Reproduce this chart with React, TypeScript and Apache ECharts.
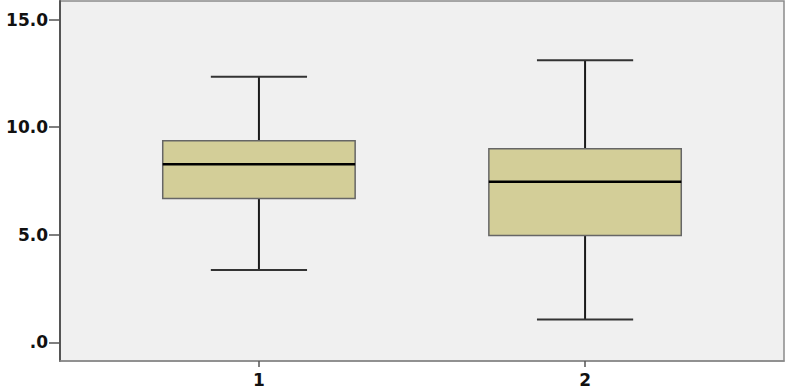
import React, { useEffect, useRef } from "react";
import * as echarts from "echarts";

const categories = [1, 2];
const lowWhisker = [3.36, 1.06];
const q1Values = [6.69, 4.96];
const medians = [8.28, 7.47];
const q3Values = [9.37, 9.0];
const highWhisker = [12.35, 13.12];
const yTicks = [0, 5, 10, 15];

export default function App() {
  const ref = useRef<HTMLDivElement>(null);
  useEffect(() => {
    if (!ref.current) return;
    const chart = echarts.init(ref.current, null, { renderer: "svg" });
    const data = categories.map((c, i) => [
      c,
      lowWhisker[i],
      q1Values[i],
      medians[i],
      q3Values[i],
      highWhisker[i],
    ]);
    const boxW = 0.59;
    const capW = 0.295;
    const labelFont = {
      fontFamily: "DejaVu Sans",
      fontWeight: "bold" as const,
      fontSize: 17,
      color: "#111",
    };
    chart.setOption({
      animation: false,
      grid: {
        left: 60,
        top: 1,
        width: 724,
        height: 364,
        show: true,
        backgroundColor: "#F0F0F0",
        borderColor: "#8a8a8a",
        borderWidth: 1.5,
      },
      xAxis: {
        type: "value",
        min: 0.39,
        max: 2.61,
        splitLine: { show: false },
        axisLine: { show: true, onZero: false, lineStyle: { color: "#8a8a8a", width: 1.5 } },
        axisTick: { show: true, customValues: categories, length: 6, lineStyle: { color: "#555", width: 1.5 } },
        axisLabel: {
          customValues: categories,
          margin: 10,
          formatter: (v: number) => String(v),
          ...labelFont,
        },
      },
      yAxis: {
        type: "value",
        min: -0.87,
        max: 15.87,
        splitLine: { show: false },
        axisLine: { show: true, onZero: false, lineStyle: { color: "#555", width: 2 } },
        axisTick: { show: true, customValues: yTicks, length: 11, lineStyle: { color: "#555", width: 1.5 } },
        axisLabel: {
          customValues: yTicks,
          margin: 12,
          formatter: (v: number) => (v === 0 ? ".0" : v.toFixed(1)),
          ...labelFont,
        },
      },
      series: [
        {
          type: "custom",
          data,
          renderItem: (params: any, api: any) => {
            const x = api.value(0);
            const lo = api.coord([x, api.value(1)]);
            const q1 = api.coord([x, api.value(2)]);
            const med = api.coord([x, api.value(3)]);
            const q3 = api.coord([x, api.value(4)]);
            const hi = api.coord([x, api.value(5)]);
            const bw = api.size([boxW, 0])[0];
            const cw = api.size([capW, 0])[0];
            const cx = lo[0];
            const whisk = { stroke: "#1a1a1a", lineWidth: 2 };
            return {
              type: "group",
              children: [
                { type: "line", shape: { x1: cx, y1: hi[1], x2: cx, y2: q3[1] }, style: whisk },
                { type: "line", shape: { x1: cx, y1: q1[1], x2: cx, y2: lo[1] }, style: whisk },
                { type: "line", shape: { x1: cx - cw / 2, y1: hi[1], x2: cx + cw / 2, y2: hi[1] }, style: { stroke: "#333", lineWidth: 2 } },
                { type: "line", shape: { x1: cx - cw / 2, y1: lo[1], x2: cx + cw / 2, y2: lo[1] }, style: { stroke: "#333", lineWidth: 2 } },
                {
                  type: "rect",
                  shape: { x: cx - bw / 2, y: q3[1], width: bw, height: q1[1] - q3[1] },
                  style: { fill: "#D3CE98", stroke: "#666", lineWidth: 1.5 },
                },
                { type: "line", shape: { x1: cx - bw / 2, y1: med[1], x2: cx + bw / 2, y2: med[1] }, style: { stroke: "#000", lineWidth: 2.5 } },
              ],
            };
          },
        },
      ],
    });
    return () => chart.dispose();
  }, []);
  return <div ref={ref} style={{ width: 787, height: 388, position: "absolute", left: 0, top: 0 }} />;
}
